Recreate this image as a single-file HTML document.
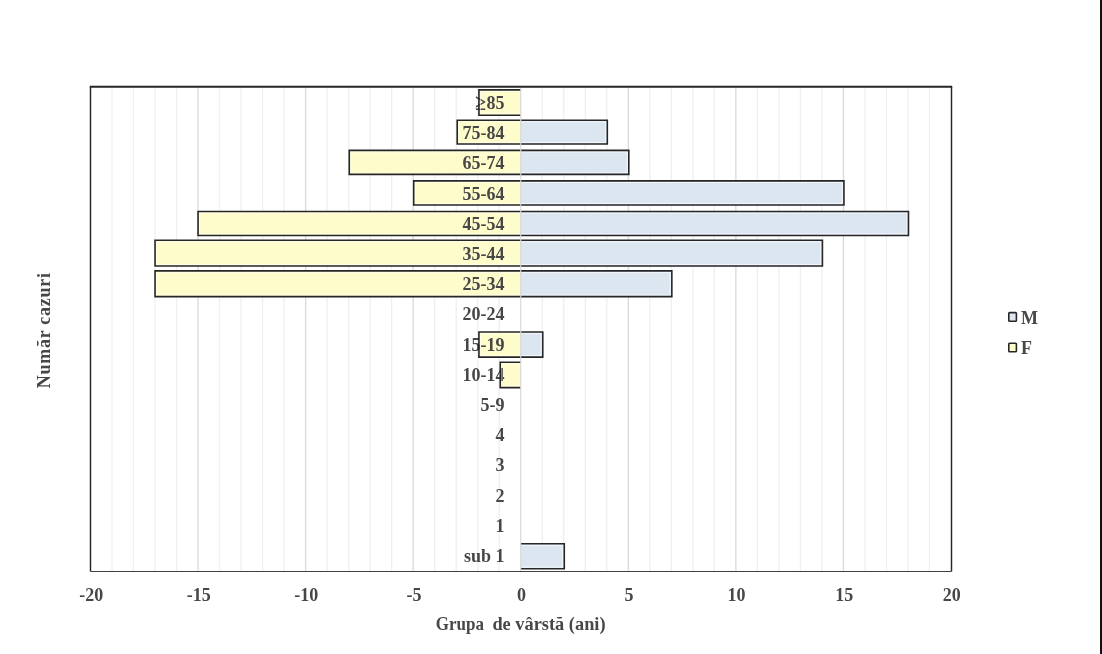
<!DOCTYPE html><html><head><meta charset="utf-8"><style>html,body{margin:0;padding:0;background:#fff;width:1102px;height:654px;overflow:hidden}svg{display:block;will-change:transform}text{font-family:"Liberation Serif",serif;font-weight:bold}</style></head><body>
<svg width="1102" height="654" viewBox="0 0 1102 654">
<rect x="0" y="0" width="1102" height="654" fill="#fff"/>
<line x1="112.01" y1="86.80" x2="112.01" y2="571.50" stroke="#efefef" stroke-width="1.3"/>
<line x1="133.53" y1="86.80" x2="133.53" y2="571.50" stroke="#efefef" stroke-width="1.3"/>
<line x1="155.04" y1="86.80" x2="155.04" y2="571.50" stroke="#efefef" stroke-width="1.3"/>
<line x1="176.55" y1="86.80" x2="176.55" y2="571.50" stroke="#efefef" stroke-width="1.3"/>
<line x1="198.06" y1="86.80" x2="198.06" y2="571.50" stroke="#d9d9d9" stroke-width="1.3"/>
<line x1="219.57" y1="86.80" x2="219.57" y2="571.50" stroke="#efefef" stroke-width="1.3"/>
<line x1="241.09" y1="86.80" x2="241.09" y2="571.50" stroke="#efefef" stroke-width="1.3"/>
<line x1="262.60" y1="86.80" x2="262.60" y2="571.50" stroke="#efefef" stroke-width="1.3"/>
<line x1="284.11" y1="86.80" x2="284.11" y2="571.50" stroke="#efefef" stroke-width="1.3"/>
<line x1="305.62" y1="86.80" x2="305.62" y2="571.50" stroke="#d9d9d9" stroke-width="1.3"/>
<line x1="327.14" y1="86.80" x2="327.14" y2="571.50" stroke="#efefef" stroke-width="1.3"/>
<line x1="348.65" y1="86.80" x2="348.65" y2="571.50" stroke="#efefef" stroke-width="1.3"/>
<line x1="370.16" y1="86.80" x2="370.16" y2="571.50" stroke="#efefef" stroke-width="1.3"/>
<line x1="391.68" y1="86.80" x2="391.68" y2="571.50" stroke="#efefef" stroke-width="1.3"/>
<line x1="413.19" y1="86.80" x2="413.19" y2="571.50" stroke="#d9d9d9" stroke-width="1.3"/>
<line x1="434.70" y1="86.80" x2="434.70" y2="571.50" stroke="#efefef" stroke-width="1.3"/>
<line x1="456.21" y1="86.80" x2="456.21" y2="571.50" stroke="#efefef" stroke-width="1.3"/>
<line x1="477.73" y1="86.80" x2="477.73" y2="571.50" stroke="#efefef" stroke-width="1.3"/>
<line x1="499.24" y1="86.80" x2="499.24" y2="571.50" stroke="#efefef" stroke-width="1.3"/>
<line x1="542.26" y1="86.80" x2="542.26" y2="571.50" stroke="#efefef" stroke-width="1.3"/>
<line x1="563.77" y1="86.80" x2="563.77" y2="571.50" stroke="#efefef" stroke-width="1.3"/>
<line x1="585.29" y1="86.80" x2="585.29" y2="571.50" stroke="#efefef" stroke-width="1.3"/>
<line x1="606.80" y1="86.80" x2="606.80" y2="571.50" stroke="#efefef" stroke-width="1.3"/>
<line x1="628.31" y1="86.80" x2="628.31" y2="571.50" stroke="#d9d9d9" stroke-width="1.3"/>
<line x1="649.83" y1="86.80" x2="649.83" y2="571.50" stroke="#efefef" stroke-width="1.3"/>
<line x1="671.34" y1="86.80" x2="671.34" y2="571.50" stroke="#efefef" stroke-width="1.3"/>
<line x1="692.85" y1="86.80" x2="692.85" y2="571.50" stroke="#efefef" stroke-width="1.3"/>
<line x1="714.36" y1="86.80" x2="714.36" y2="571.50" stroke="#efefef" stroke-width="1.3"/>
<line x1="735.88" y1="86.80" x2="735.88" y2="571.50" stroke="#d9d9d9" stroke-width="1.3"/>
<line x1="757.39" y1="86.80" x2="757.39" y2="571.50" stroke="#efefef" stroke-width="1.3"/>
<line x1="778.90" y1="86.80" x2="778.90" y2="571.50" stroke="#efefef" stroke-width="1.3"/>
<line x1="800.41" y1="86.80" x2="800.41" y2="571.50" stroke="#efefef" stroke-width="1.3"/>
<line x1="821.92" y1="86.80" x2="821.92" y2="571.50" stroke="#efefef" stroke-width="1.3"/>
<line x1="843.44" y1="86.80" x2="843.44" y2="571.50" stroke="#d9d9d9" stroke-width="1.3"/>
<line x1="864.95" y1="86.80" x2="864.95" y2="571.50" stroke="#efefef" stroke-width="1.3"/>
<line x1="886.46" y1="86.80" x2="886.46" y2="571.50" stroke="#efefef" stroke-width="1.3"/>
<line x1="907.97" y1="86.80" x2="907.97" y2="571.50" stroke="#efefef" stroke-width="1.3"/>
<line x1="929.49" y1="86.80" x2="929.49" y2="571.50" stroke="#efefef" stroke-width="1.3"/>
<rect x="478.93" y="89.90" width="41.82" height="25.40" fill="#fffccc"/>
<rect x="457.21" y="120.20" width="63.54" height="23.80" fill="#fffccc"/>
<rect x="520.75" y="120.20" width="86.55" height="23.80" fill="#dce6f1"/>
<rect x="349.25" y="150.40" width="171.50" height="24.00" fill="#fffccc"/>
<rect x="520.75" y="150.40" width="108.06" height="24.00" fill="#dce6f1"/>
<rect x="413.69" y="180.90" width="107.06" height="24.10" fill="#fffccc"/>
<rect x="520.75" y="180.90" width="323.19" height="24.10" fill="#dce6f1"/>
<rect x="198.06" y="211.50" width="322.69" height="24.00" fill="#fffccc"/>
<rect x="520.75" y="211.50" width="387.72" height="24.00" fill="#dce6f1"/>
<rect x="155.04" y="240.30" width="365.71" height="25.70" fill="#fffccc"/>
<rect x="520.75" y="240.30" width="301.67" height="25.70" fill="#dce6f1"/>
<rect x="155.04" y="270.85" width="365.71" height="25.75" fill="#fffccc"/>
<rect x="520.75" y="270.85" width="151.09" height="25.75" fill="#dce6f1"/>
<rect x="478.93" y="332.00" width="41.82" height="25.10" fill="#fffccc"/>
<rect x="520.75" y="332.00" width="22.01" height="25.10" fill="#dce6f1"/>
<rect x="500.24" y="362.30" width="20.51" height="25.30" fill="#fffccc"/>
<rect x="520.75" y="543.80" width="43.52" height="24.90" fill="#dce6f1"/>
<text transform="translate(504.5,109.00) scale(1,1.06)" font-size="18" fill="#474747" text-anchor="end">85</text>
<text transform="translate(475.0,110.4) scale(1.12,1.25)" font-size="18" fill="#474747">≥</text>
<text transform="translate(504.5,139.20) scale(1,1.06)" font-size="18" fill="#474747" text-anchor="end">75-84</text>
<text transform="translate(504.5,169.40) scale(1,1.06)" font-size="18" fill="#474747" text-anchor="end">65-74</text>
<text transform="translate(504.5,199.60) scale(1,1.06)" font-size="18" fill="#474747" text-anchor="end">55-64</text>
<text transform="translate(504.5,229.80) scale(1,1.06)" font-size="18" fill="#474747" text-anchor="end">45-54</text>
<text transform="translate(504.5,260.00) scale(1,1.06)" font-size="18" fill="#474747" text-anchor="end">35-44</text>
<text transform="translate(504.5,290.20) scale(1,1.06)" font-size="18" fill="#474747" text-anchor="end">25-34</text>
<text transform="translate(504.5,320.40) scale(1,1.06)" font-size="18" fill="#474747" text-anchor="end">20-24</text>
<text transform="translate(504.5,350.60) scale(1,1.06)" font-size="18" fill="#474747" text-anchor="end">15-19</text>
<text transform="translate(504.5,380.80) scale(1,1.06)" font-size="18" fill="#474747" text-anchor="end">10-14</text>
<text transform="translate(504.5,411.00) scale(1,1.06)" font-size="18" fill="#474747" text-anchor="end">5-9</text>
<text transform="translate(504.5,441.20) scale(1,1.06)" font-size="18" fill="#474747" text-anchor="end">4</text>
<text transform="translate(504.5,471.40) scale(1,1.06)" font-size="18" fill="#474747" text-anchor="end">3</text>
<text transform="translate(504.5,501.60) scale(1,1.06)" font-size="18" fill="#474747" text-anchor="end">2</text>
<text transform="translate(504.5,531.80) scale(1,1.06)" font-size="18" fill="#474747" text-anchor="end">1</text>
<text transform="translate(504.5,562.00) scale(1,1.06)" font-size="18" fill="#474747" text-anchor="end">sub 1</text>
<path d="M520.25 91.50H480.53V113.70H520.25" fill="none" stroke="#ffffff" stroke-opacity="0.55" stroke-width="1"/>
<path d="M520.25 121.80H458.81V142.40H520.25" fill="none" stroke="#ffffff" stroke-opacity="0.55" stroke-width="1"/>
<path d="M521.25 121.80H605.70V142.40H521.25" fill="none" stroke="#ffffff" stroke-opacity="0.65" stroke-width="1"/>
<path d="M520.25 152.00H350.85V172.80H520.25" fill="none" stroke="#ffffff" stroke-opacity="0.55" stroke-width="1"/>
<path d="M521.25 152.00H627.21V172.80H521.25" fill="none" stroke="#ffffff" stroke-opacity="0.65" stroke-width="1"/>
<path d="M520.25 182.50H415.29V203.40H520.25" fill="none" stroke="#ffffff" stroke-opacity="0.55" stroke-width="1"/>
<path d="M521.25 182.50H842.34V203.40H521.25" fill="none" stroke="#ffffff" stroke-opacity="0.65" stroke-width="1"/>
<path d="M520.25 213.10H199.66V233.90H520.25" fill="none" stroke="#ffffff" stroke-opacity="0.55" stroke-width="1"/>
<path d="M521.25 213.10H906.87V233.90H521.25" fill="none" stroke="#ffffff" stroke-opacity="0.65" stroke-width="1"/>
<path d="M520.25 241.90H156.64V264.40H520.25" fill="none" stroke="#ffffff" stroke-opacity="0.55" stroke-width="1"/>
<path d="M521.25 241.90H820.82V264.40H521.25" fill="none" stroke="#ffffff" stroke-opacity="0.65" stroke-width="1"/>
<path d="M520.25 272.45H156.64V295.00H520.25" fill="none" stroke="#ffffff" stroke-opacity="0.55" stroke-width="1"/>
<path d="M521.25 272.45H670.24V295.00H521.25" fill="none" stroke="#ffffff" stroke-opacity="0.65" stroke-width="1"/>
<path d="M520.25 333.60H480.53V355.50H520.25" fill="none" stroke="#ffffff" stroke-opacity="0.55" stroke-width="1"/>
<path d="M521.25 333.60H541.16V355.50H521.25" fill="none" stroke="#ffffff" stroke-opacity="0.65" stroke-width="1"/>
<path d="M520.25 363.90H501.84V386.00H520.25" fill="none" stroke="#ffffff" stroke-opacity="0.55" stroke-width="1"/>
<path d="M521.25 545.40H562.67V567.10H521.25" fill="none" stroke="#ffffff" stroke-opacity="0.65" stroke-width="1"/>
<path d="M520.75 89.90H478.93V115.30H520.75" fill="none" stroke="#262626" stroke-width="1.6"/>
<path d="M520.75 120.20H457.21V144.00H520.75" fill="none" stroke="#262626" stroke-width="1.6"/>
<path d="M520.75 120.20H607.30V144.00H520.75" fill="none" stroke="#262626" stroke-width="1.6"/>
<path d="M520.75 150.40H349.25V174.40H520.75" fill="none" stroke="#262626" stroke-width="1.6"/>
<path d="M520.75 150.40H628.81V174.40H520.75" fill="none" stroke="#262626" stroke-width="1.6"/>
<path d="M520.75 180.90H413.69V205.00H520.75" fill="none" stroke="#262626" stroke-width="1.6"/>
<path d="M520.75 180.90H843.94V205.00H520.75" fill="none" stroke="#262626" stroke-width="1.6"/>
<path d="M520.75 211.50H198.06V235.50H520.75" fill="none" stroke="#262626" stroke-width="1.6"/>
<path d="M520.75 211.50H908.47V235.50H520.75" fill="none" stroke="#262626" stroke-width="1.6"/>
<path d="M520.75 240.30H155.04V266.00H520.75" fill="none" stroke="#262626" stroke-width="1.6"/>
<path d="M520.75 240.30H822.42V266.00H520.75" fill="none" stroke="#262626" stroke-width="1.6"/>
<path d="M520.75 270.85H155.04V296.60H520.75" fill="none" stroke="#262626" stroke-width="1.6"/>
<path d="M520.75 270.85H671.84V296.60H520.75" fill="none" stroke="#262626" stroke-width="1.6"/>
<path d="M520.75 332.00H478.93V357.10H520.75" fill="none" stroke="#262626" stroke-width="1.6"/>
<path d="M520.75 332.00H542.76V357.10H520.75" fill="none" stroke="#262626" stroke-width="1.6"/>
<path d="M520.75 362.30H500.24V387.60H520.75" fill="none" stroke="#262626" stroke-width="1.6"/>
<path d="M520.75 543.80H564.27V568.70H520.75" fill="none" stroke="#262626" stroke-width="1.6"/>
<line x1="520.75" y1="86.80" x2="520.75" y2="571.50" stroke="#d6d6d6" stroke-width="1.1"/>
<line x1="89.80" y1="86.80" x2="952.20" y2="86.80" stroke="#262626" stroke-width="2"/>
<line x1="90.50" y1="86.80" x2="90.50" y2="571.50" stroke="#262626" stroke-width="1.45"/>
<line x1="951.50" y1="86.80" x2="951.50" y2="571.50" stroke="#262626" stroke-width="1.45"/>
<line x1="90.50" y1="571.50" x2="951.50" y2="571.50" stroke="#404040" stroke-width="1.1"/>
<text transform="translate(91.20,601.3) scale(1,1.06)" font-size="18" fill="#474747" text-anchor="middle">-20</text>
<text transform="translate(198.76,601.3) scale(1,1.06)" font-size="18" fill="#474747" text-anchor="middle">-15</text>
<text transform="translate(306.32,601.3) scale(1,1.06)" font-size="18" fill="#474747" text-anchor="middle">-10</text>
<text transform="translate(413.89,601.3) scale(1,1.06)" font-size="18" fill="#474747" text-anchor="middle">-5</text>
<text transform="translate(521.45,601.3) scale(1,1.06)" font-size="18" fill="#474747" text-anchor="middle">0</text>
<text transform="translate(629.01,601.3) scale(1,1.06)" font-size="18" fill="#474747" text-anchor="middle">5</text>
<text transform="translate(736.58,601.3) scale(1,1.06)" font-size="18" fill="#474747" text-anchor="middle">10</text>
<text transform="translate(844.14,601.3) scale(1,1.06)" font-size="18" fill="#474747" text-anchor="middle">15</text>
<text transform="translate(951.70,601.3) scale(1,1.06)" font-size="18" fill="#474747" text-anchor="middle">20</text>
<text transform="translate(435.8,630.3) scale(0.945,1.06)" font-size="18" fill="#474747">Grupa</text>
<text transform="translate(492.4,630.3) scale(1.02,1.06)" font-size="18" fill="#474747">de vârstă (ani)</text>
<text transform="translate(50,330.3) rotate(-90) scale(1,1.06)" x="0" y="0" letter-spacing="0.75" font-size="18" fill="#474747" text-anchor="middle" xml:space="preserve">Număr cazuri</text>
<rect x="1008.8" y="312.6" width="7.6" height="8.6" fill="#dce6f1" stroke="#262626" stroke-width="1.6" rx="0.8"/>
<text transform="translate(1021,323.7) scale(1,1.06)" font-size="18" fill="#474747">M</text>
<rect x="1008.8" y="343.2" width="7.6" height="8.6" fill="#fffccc" stroke="#262626" stroke-width="1.6" rx="0.8"/>
<text transform="translate(1021,353.7) scale(1,1.06)" font-size="18" fill="#474747">F</text>
<rect x="1100" y="0" width="2" height="654" fill="#111"/>
</svg></body></html>
